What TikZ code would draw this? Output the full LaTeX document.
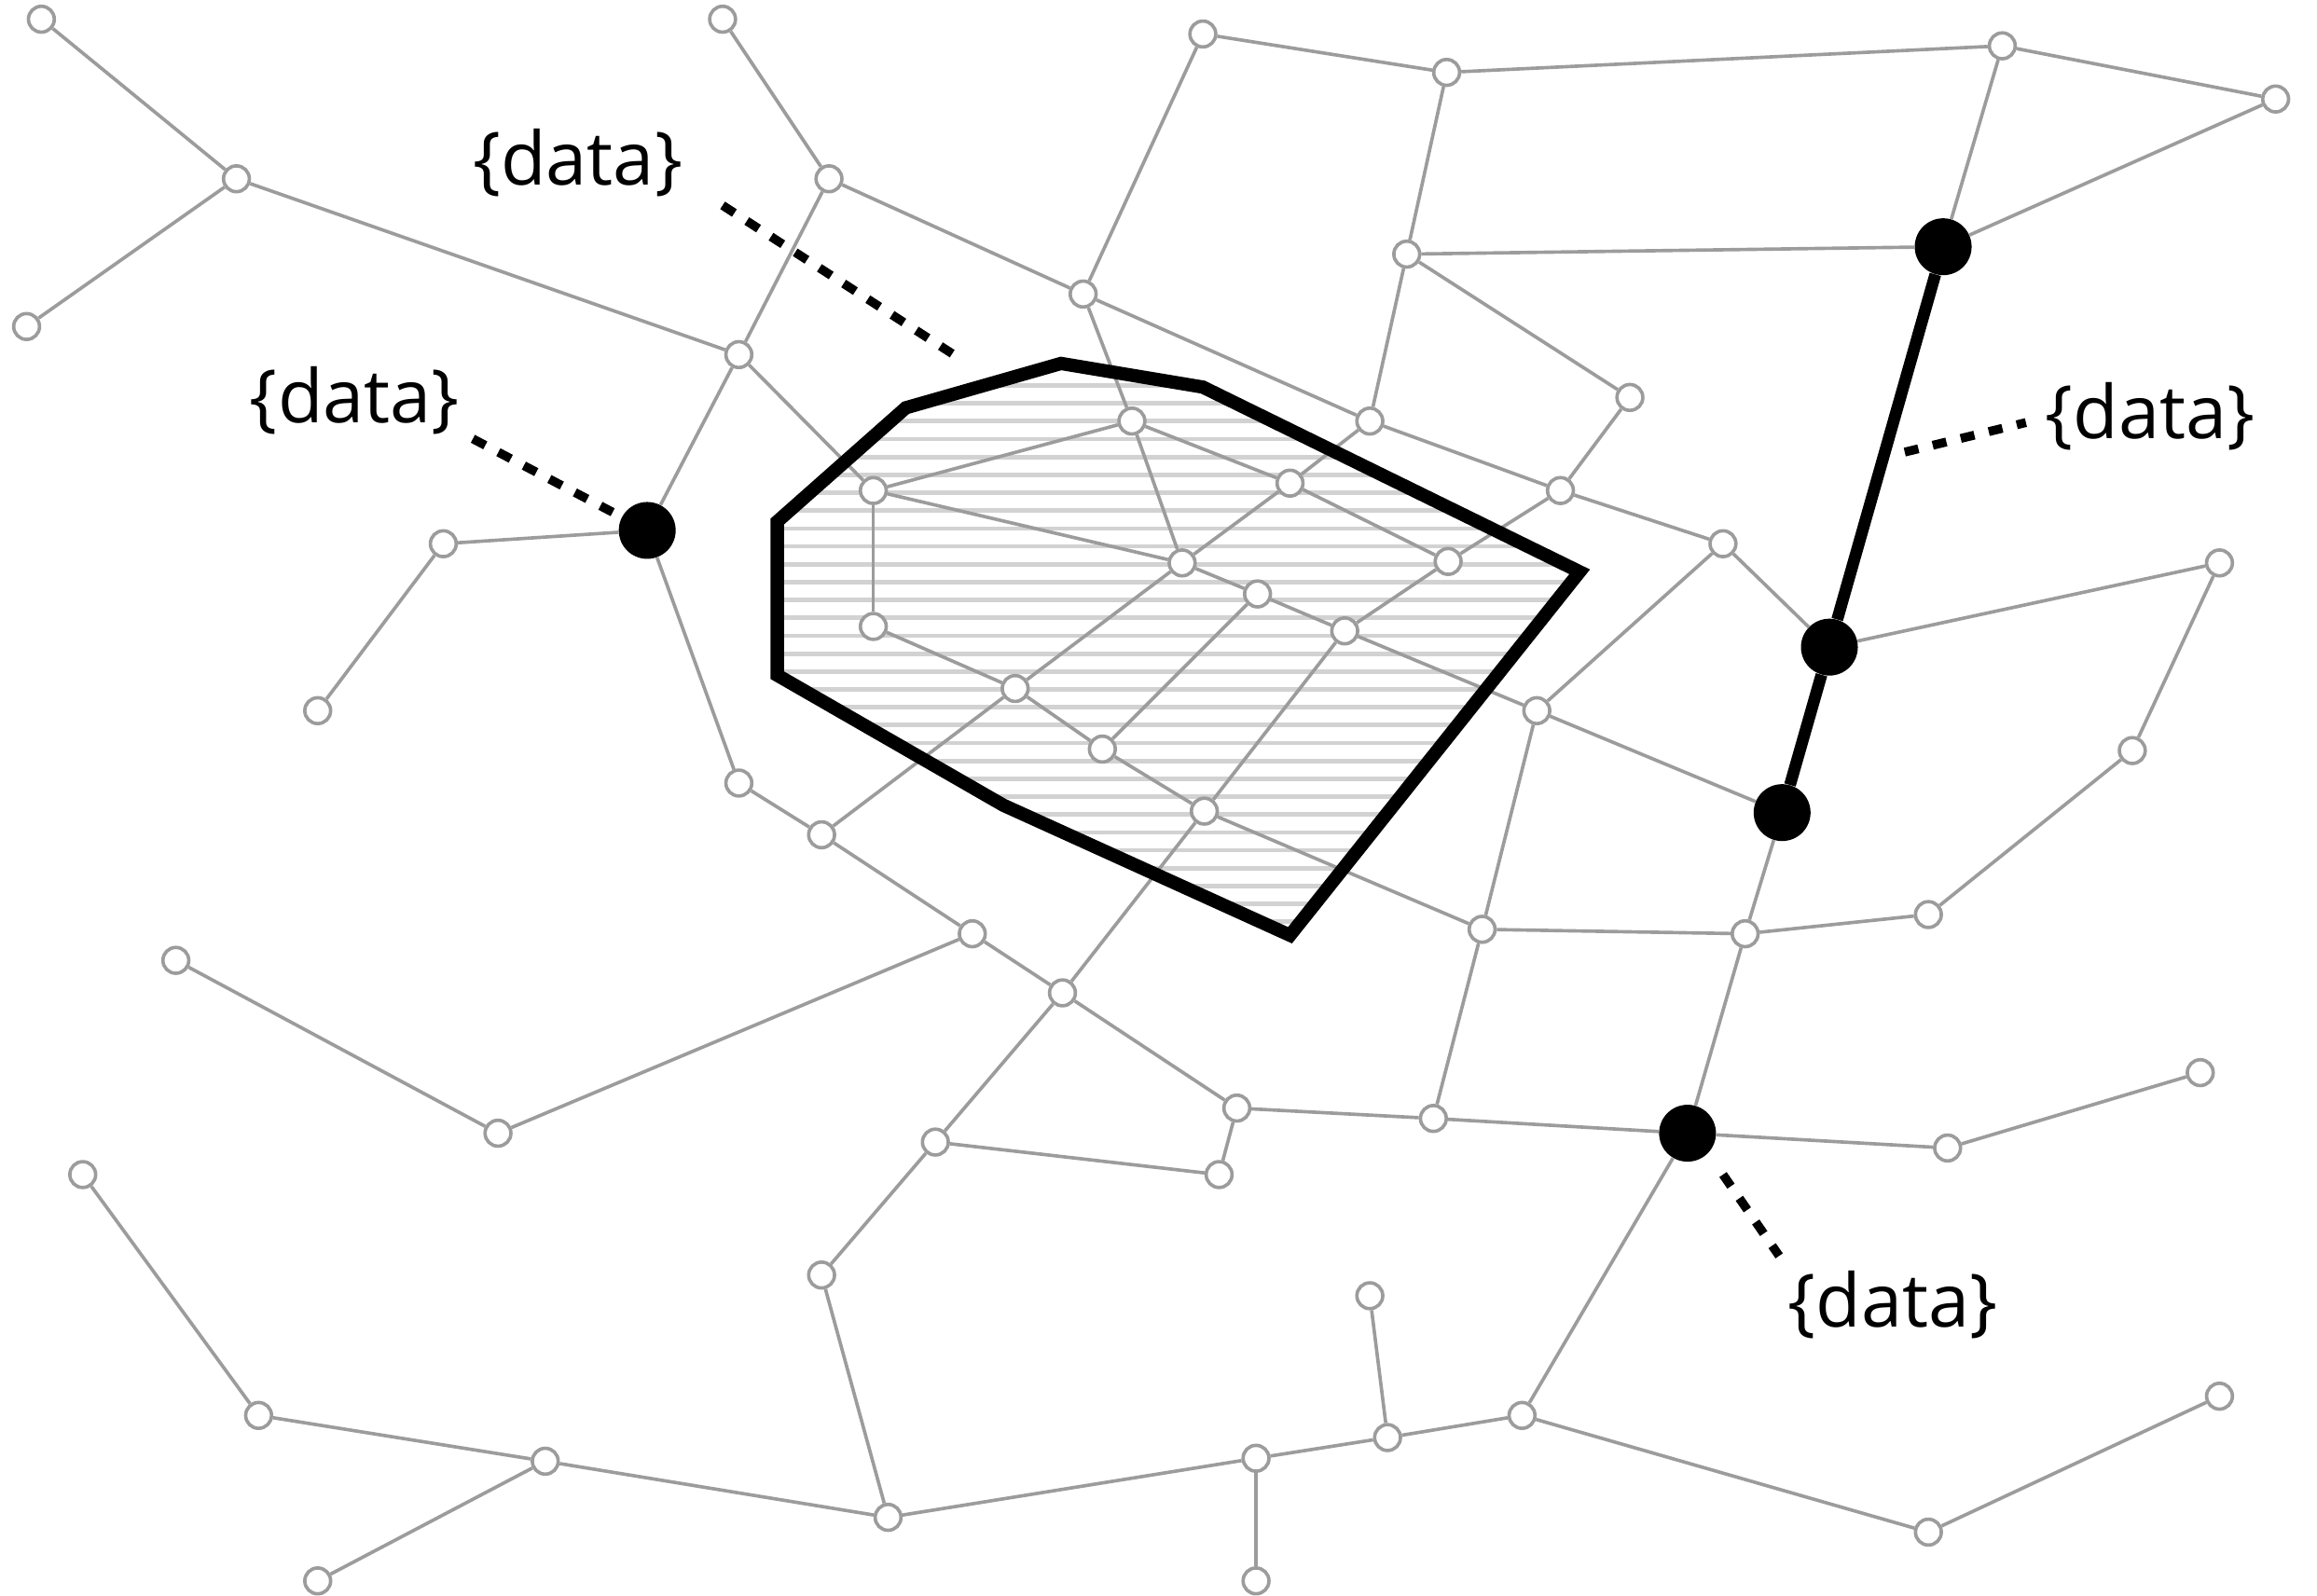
\documentclass[tikz,border=0pt]{standalone}
\usepackage{fontspec}
\setmainfont{Open Sans}
\definecolor{edgegray}{HTML}{9C9C9C}
\definecolor{hatchgray}{HTML}{D2D2D2}
\begin{document}
\begin{tikzpicture}[x=1pt,y=-1pt,
  nd/.style={circle,draw=edgegray,fill=white,line width=2.3pt,minimum size=17.5pt,inner sep=0pt},
  bn/.style={circle,fill=black,minimum size=38.5pt,inner sep=0pt},
  ln/.style={draw=edgegray,line width=2.3pt},
  hatchln/.style={draw=hatchgray,line width=3pt},
  poly/.style={draw=black,line width=9pt,line join=miter},
  blk/.style={draw=black,line width=8pt},
  leader/.style={draw=black,line width=6pt,dash pattern=on 9.5pt off 10pt},
  lbl/.style={font=\fontsize{50}{58}\selectfont,inner sep=0pt}]
\useasboundingbox (0,0) rectangle (1568,1080);
\fill[white] (0,0) rectangle (1568,1080);

% hatching inside the region
\begin{scope}
\clip (526,353) -- (526,457) -- (679,545) -- (873,633) -- (1069,387) -- (814,262) -- (718,246) -- (613,276) -- cycle;
\foreach \k in {-3,...,33} \draw[hatchln] (500,{273+12.1*\k}) -- (1100,{273+12.1*\k});
\end{scope}

% nodes
\node[nd] (n1) at (28,13) {};
\node[nd] (n2) at (160,121) {};
\node[nd] (n3) at (18,221) {};
\node[nd] (n4) at (489,13) {};
\node[nd] (n5) at (561,121) {};
\node[nd] (n6) at (500,240) {};
\node[nd] (n7) at (814,23) {};
\node[nd] (n8) at (979,49) {};
\node[nd] (n9) at (1355,31) {};
\node[nd] (n10) at (1540,67) {};
\node[nd] (n11) at (733,199) {};
\node[nd] (n12) at (952,172) {};
\node[bn] (n13) at (1315,167) {};
\node[nd] (n14) at (1103,269) {};
\node[nd] (n15) at (927,285) {};
\node[nd] (n16) at (1056,332) {};
\node[nd] (n17) at (1166,368) {};
\node[bn] (n18) at (1238,438) {};
\node[nd] (n19) at (1502,381) {};
\node[nd] (n20) at (1443,508) {};
\node[bn] (n21) at (1206,550) {};
\node[nd] (n22) at (1040,481) {};
\node[bn] (n23) at (438,359) {};
\node[nd] (n24) at (300,368) {};
\node[nd] (n25) at (215,481) {};
\node[nd] (n26) at (500,530) {};
\node[nd] (n27) at (556,565) {};
\node[nd] (n28) at (658,632) {};
\node[nd] (n29) at (119,650) {};
\node[nd] (n30) at (337,767) {};
\node[nd] (n31) at (719,672) {};
\node[nd] (n32) at (837,750) {};
\node[nd] (n33) at (825,795) {};
\node[nd] (n34) at (633,773) {};
\node[nd] (n35) at (556,863) {};
\node[nd] (n36) at (970,757) {};
\node[nd] (n37) at (1003,629) {};
\node[nd] (n38) at (1181,632) {};
\node[nd] (n39) at (1305,619) {};
\node[bn] (n40) at (1142,767) {};
\node[nd] (n41) at (1318,777) {};
\node[nd] (n42) at (1489,726) {};
\node[nd] (n43) at (56,795) {};
\node[nd] (n44) at (175,958) {};
\node[nd] (n45) at (369,989) {};
\node[nd] (n46) at (215,1070) {};
\node[nd] (n47) at (601,1027) {};
\node[nd] (n48) at (850,987) {};
\node[nd] (n49) at (850,1070) {};
\node[nd] (n50) at (939,973) {};
\node[nd] (n51) at (927,877) {};
\node[nd] (n52) at (1030,958) {};
\node[nd] (n53) at (1305,1037) {};
\node[nd] (n54) at (1502,945) {};
\node[nd] (p1) at (766,285) {};
\node[nd] (p2) at (591,332) {};
\node[nd] (p3) at (873,327) {};
\node[nd] (p4) at (800,381) {};
\node[nd] (p5) at (851,402) {};
\node[nd] (p6) at (980,380) {};
\node[nd] (p7) at (591,424) {};
\node[nd] (p8) at (910,427) {};
\node[nd] (p9) at (687,466) {};
\node[nd] (p10) at (746,507) {};
\node[nd] (p11) at (815,549) {};

% gray edges
\foreach \a/\b in {n1/n2,n2/n3,n2/n6,n4/n5,n5/n6,n5/n11,n6/n23,n6/p2,n7/n8,n7/n11,n8/n9,n8/n12,
  n9/n10,n9/n13,n10/n13,n12/n13,n12/n14,n12/n15,n11/n15,n11/p1,n14/n16,n15/n16,n15/p3,n16/n17,
  n16/p6,n17/n18,n17/n22,n18/n19,n19/n20,n20/n39,n39/n38,n38/n37,n38/n21,n38/n40,n22/n21,n22/n37,
  n37/n36,n37/p11,p8/n22,n23/n24,n24/n25,n23/n26,n26/n27,n27/n28,n27/p9,n28/n30,n29/n30,n28/n31,
  n31/p11,n31/n32,n31/n34,n32/n33,n33/n34,n34/n35,n35/n47,n32/n36,n36/n40,n40/n41,n41/n42,n40/n52,
  n43/n44,n44/n45,n45/n46,n45/n47,n47/n48,n48/n49,n48/n50,n50/n51,n50/n52,n52/n53,n53/n54,
  p1/p2,p2/p4,p2/p7,p1/p4,p1/p3,p3/p4,p3/p6,p4/p5,p4/p9,p7/p9,p9/p10,p10/p11,p10/p5,p5/p8,p8/p6,p8/p11}
  \draw[ln] (\a) -- (\b);

% region outline
\draw[poly] (526,353) -- (526,457) -- (679,545) -- (873,633) -- (1069,387) -- (814,262) -- (718,246) -- (613,276) -- cycle;

% thick black route
\draw[blk] (n13) -- (n18) -- (n21);

% labels and leaders
\node[lbl] (L1) at (391,110) {\{data\}};
\node[lbl] (L2) at (240,271) {\{data\}};
\node[lbl] (L3) at (1455,282) {\{data\}};
\node[lbl] (L4) at (1281,883) {\{data\}};
\coordinate (c1a) at (489,139);
\coordinate (c1b) at (650,243);
\coordinate (c2a) at (320,297);
\coordinate (c3a) at (1289,306);
\coordinate (c3b) at (1371,286);
\coordinate (c4a) at (1166,795);
\coordinate (c4b) at (1204,850);
\draw[leader] (c1a) -- (c1b);
\draw[leader,shorten >=7pt] (c2a) -- (n23);
\draw[leader] (c3a) -- (c3b);
\draw[leader] (c4a) -- (c4b);
\end{tikzpicture}
\end{document}
